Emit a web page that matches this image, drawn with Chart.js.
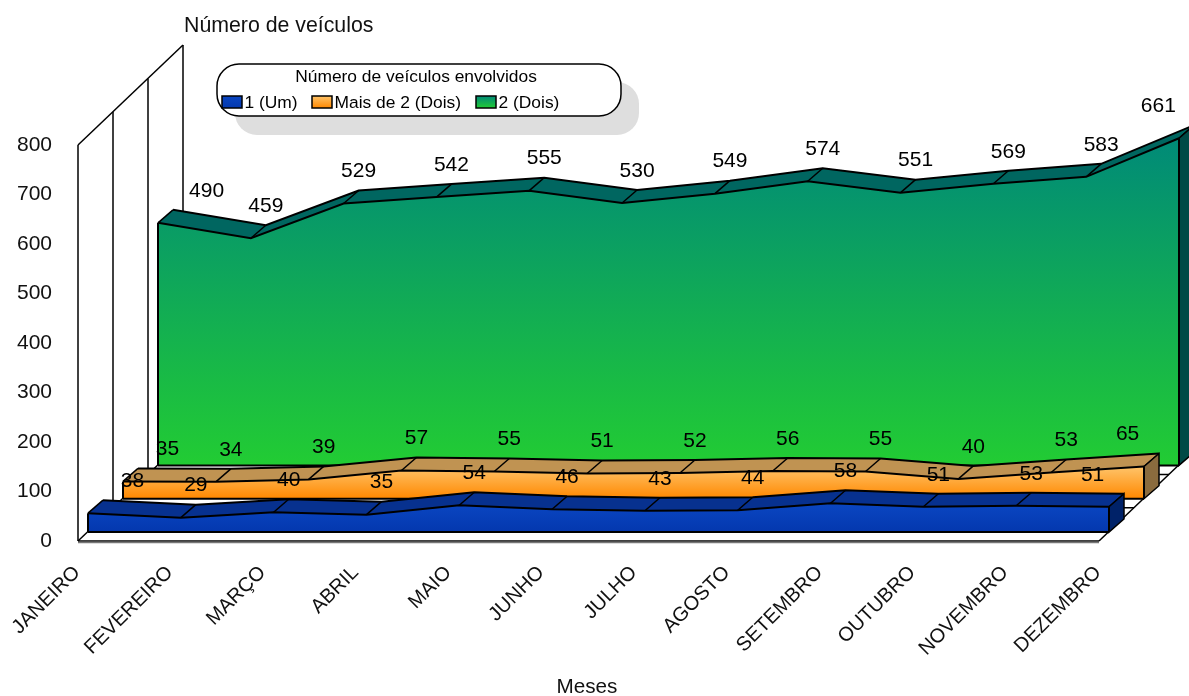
<!DOCTYPE html>
<html>
<head>
<meta charset="utf-8">
<title>Número de veículos envolvidos</title>
<script src="https://cdn.jsdelivr.net/npm/chart.js@4"></script>
<style>
  body { margin: 0; background: #fff; }
</style>
</head>
<body>
<canvas id="grafico" width="1189" height="696"></canvas>
<script>
var meses = ['JANEIRO', 'FEVEREIRO', 'MARÇO', 'ABRIL', 'MAIO', 'JUNHO', 'JULHO', 'AGOSTO', 'SETEMBRO', 'OUTUBRO', 'NOVEMBRO', 'DEZEMBRO'];
var um = [38, 29, 40, 35, 54, 46, 43, 44, 58, 51, 53, 51];
var maisDe2 = [35, 34, 39, 57, 55, 51, 52, 56, 55, 40, 53, 65];
var dois = [490, 459, 529, 542, 555, 530, 549, 574, 551, 569, 583, 661];
var series = [um, maisDe2, dois];
var nomes = ['1 (Um)', 'Mais de 2 (Dois)', '2 (Dois)'];

// cores por serie: topo e base do degrade, face de cima, face lateral
var coresTopo = ['#0a46c2', '#ffc46a', '#008a78'];
var coresBase = ['#0438ae', '#ff8800', '#22cc33'];
var coresCima = ['#07318f', '#c09352', '#006660'];
var coresLado = ['#002268', '#8a6b3e', '#004a46'];

// geometria da falsa perspectiva, em pixels
var LEFT = 78, BOTTOM = 541, TOP = 30;
var PX_X = 1021 / 11, PX_Y = 396 / 800;
var X_MAX = (1189 - LEFT) / PX_X, Y_MAX = (BOTTOM - TOP) / PX_Y;
var FONTE = '"Liberation Sans", Arial, sans-serif';

function pontos(valores) {
  return meses.map(function (m, i) { return { x: i, y: valores[i] }; });
}

function degrade(k) {
  return function (ctx) {
    var chart = ctx.chart;
    var esc = chart.scales['yf' + k];
    if (!chart.chartArea || !esc) return coresBase[k];
    var g = chart.ctx.createLinearGradient(0, esc.getPixelForValue(Math.max.apply(null, series[k])), 0, esc.getPixelForValue(0));
    g.addColorStop(0, coresTopo[k]);
    g.addColorStop(1, coresBase[k]);
    return g;
  };
}

var escalas = {
  x: {
    type: 'linear', min: 0, max: X_MAX,
    grid: { display: false }, border: { display: false },
    ticks: {
      stepSize: 1, includeBounds: false, autoSkip: false, maxTicksLimit: 20,
      minRotation: 45, maxRotation: 45, padding: 12, labelOffset: -1, color: '#111',
      font: { family: FONTE, size: 20 },
      callback: function (v) { return meses[v]; }
    },
    afterFit: function (s) { s.height = 155; s.paddingLeft = 0; s.paddingRight = 0; }
  },
  y: {
    type: 'linear', min: 0, max: Y_MAX,
    grid: { display: false }, border: { display: false },
    ticks: {
      stepSize: 100, includeBounds: false, padding: 18, color: '#111',
      font: { family: FONTE, size: 21 }
    },
    afterBuildTicks: function (s) { s.ticks = s.ticks.filter(function (t) { return t.value <= 800; }); },
    afterFit: function (s) { s.width = LEFT; s.paddingTop = 0; s.paddingBottom = 0; }
  }
};

// cada serie tem eixos escondidos (f = frente, t = tras) deslocados em profundidade
[0, 1, 2].forEach(function (k) {
  ['f', 't'].forEach(function (lado) {
    var dx = 10 + 35 * k + (lado == 't' ? 15 : 0);
    var dy = 9 + 33.3 * k + (lado == 't' ? 13 : 0);
    escalas['x' + lado + k] = { type: 'linear', display: false, min: -dx / PX_X, max: X_MAX - dx / PX_X };
    escalas['y' + lado + k] = { type: 'linear', display: false, min: -dy / PX_Y, max: Y_MAX - dy / PX_Y };
  });
});

var conjuntos = [];
[0, 1, 2].forEach(function (k) {
  conjuntos.push({
    label: nomes[k], data: pontos(series[k]), xAxisID: 'xf' + k, yAxisID: 'yf' + k,
    backgroundColor: degrade(k), borderColor: '#000', borderWidth: 2,
    pointRadius: 0, tension: 0, fill: { value: 0 }, capa: k, face: 'frente'
  });
  conjuntos.push({
    label: nomes[k] + ' topo', data: pontos(series[k]), xAxisID: 'xt' + k, yAxisID: 'yt' + k,
    borderColor: '#000', borderWidth: 2,
    pointRadius: 0, tension: 0, fill: false, capa: k, face: 'topo'
  });
});

function linha(c, x1, y1, x2, y2) {
  c.beginPath();
  c.moveTo(x1, y1);
  c.lineTo(x2, y2);
  c.stroke();
}

var paredes = {
  id: 'paredes',
  beforeDatasetsDraw: function (chart) {
    var c = chart.ctx, px = chart.scales.x, py = chart.scales.y;
    var x0 = px.getPixelForValue(0), x11 = px.getPixelForValue(11);
    var y0 = py.getPixelForValue(0), y8 = py.getPixelForValue(800);
    c.save();
    c.strokeStyle = '#000';
    c.lineWidth = 1.5;
    for (var k = 0; k <= 3; k++) {
      var dx = 35 * k, dy = 33.3 * k;
      linha(c, x0 + dx, y0 - dy, x0 + dx, y8 - dy);
      linha(c, x0 + dx, y0 - dy, x11 + dx, y0 - dy);
    }
    linha(c, x0, y8, x0 + 105, y8 - 100);
    linha(c, x0, y0, x0 + 105, y0 - 100);
    linha(c, x11, y0, x11 + 105, y0 - 100);
    c.strokeStyle = '#777';
    linha(c, x0, y0 + 1.5, x11, y0 + 1.5);
    c.restore();
  },
  beforeDatasetDraw: function (chart, args) {
    var ds = chart.data.datasets[args.index];
    if (ds.face != 'topo') return;
    var k = ds.capa, v = series[k], c = chart.ctx;
    var xf = chart.scales['xf' + k], yf = chart.scales['yf' + k];
    var xt = chart.scales['xt' + k], yt = chart.scales['yt' + k];
    c.save();
    c.fillStyle = coresCima[k];
    c.beginPath();
    v.forEach(function (val, i) {
      c.lineTo(xf.getPixelForValue(i), yf.getPixelForValue(val));
    });
    for (var i = v.length - 1; i >= 0; i--) {
      c.lineTo(xt.getPixelForValue(i), yt.getPixelForValue(v[i]));
    }
    c.closePath();
    c.fill();
    c.restore();
  },
  afterDatasetDraw: function (chart, args) {
    var ds = chart.data.datasets[args.index];
    var k = ds.capa, v = series[k];
    var xf = chart.scales['xf' + k], yf = chart.scales['yf' + k];
    var xt = chart.scales['xt' + k], yt = chart.scales['yt' + k];
    var c = chart.ctx, ult = meses.length - 1;
    c.save();
    c.strokeStyle = '#000';
    c.lineWidth = 1.5;
    if (ds.face == 'topo') {
      v.forEach(function (val, i) {
        linha(c, xf.getPixelForValue(i), yf.getPixelForValue(val), xt.getPixelForValue(i), yt.getPixelForValue(val));
      });
      c.fillStyle = coresLado[k];
      c.beginPath();
      c.moveTo(xf.getPixelForValue(ult), yf.getPixelForValue(v[ult]));
      c.lineTo(xt.getPixelForValue(ult), yt.getPixelForValue(v[ult]));
      c.lineTo(xt.getPixelForValue(ult), yt.getPixelForValue(0));
      c.lineTo(xf.getPixelForValue(ult), yf.getPixelForValue(0));
      c.closePath();
      c.fill();
      c.stroke();
    } else {
      var xa = xf.getPixelForValue(0), xb = xf.getPixelForValue(ult), base = yf.getPixelForValue(0);
      c.lineWidth = 2;
      linha(c, xa, base, xb, base);
      linha(c, xa, base, xa, yf.getPixelForValue(v[0]));
      linha(c, xb, base, xb, yf.getPixelForValue(v[ult]));
    }
    c.restore();
  },
  afterDatasetsDraw: function (chart) {
    var c = chart.ctx;
    c.save();
    c.fillStyle = '#000';
    c.font = '21px ' + FONTE;
    c.textAlign = 'center';
    c.textBaseline = 'middle';
    // rotulos ficam sobre a aresta de tras; primeiro e ultimo entram para dentro
    [2, 1, 0].forEach(function (k) {
      series[k].forEach(function (val, i) {
        var x = chart.scales['xt' + k].getPixelForValue(i);
        var y = chart.scales['yt' + k].getPixelForValue(val) - 19;
        var w = c.measureText(val).width;
        if (i == 0) x += 21 + w * 0.36;
        if (i == meses.length - 1) x -= 23 + w * 0.36;
        c.fillText(val, x, y);
      });
    });
    c.fillStyle = '#111';
    c.textAlign = 'left';
    c.font = '21.3px ' + FONTE;
    c.fillText('Número de veículos', 184, 26);
    c.textAlign = 'center';
    c.font = '20.7px ' + FONTE;
    c.fillText('Meses', 587, 687);
    desenhaLegenda(c);
    c.restore();
  }
};

function desenhaLegenda(c) {
  var posSwatch = [222, 312, 476];
  c.fillStyle = '#dedede';
  c.beginPath();
  c.roundRect(235, 82, 404, 53, 22);
  c.fill();
  c.fillStyle = '#fff';
  c.strokeStyle = '#000';
  c.lineWidth = 1.5;
  c.beginPath();
  c.roundRect(217, 64, 404, 52, 22);
  c.fill();
  c.stroke();
  c.fillStyle = '#000';
  c.font = '17.4px ' + FONTE;
  c.textAlign = 'center';
  c.fillText('Número de veículos envolvidos', 416, 77);
  c.textAlign = 'left';
  nomes.forEach(function (nome, k) {
    var g = c.createLinearGradient(0, 96, 0, 108);
    g.addColorStop(0, coresTopo[k]);
    g.addColorStop(1, coresBase[k]);
    c.fillStyle = g;
    c.fillRect(posSwatch[k], 96, 20, 12);
    c.strokeRect(posSwatch[k], 96, 20, 12);
    c.fillStyle = '#000';
    c.fillText(nome, posSwatch[k] + 22.5, 103);
  });
}

var grafico = new Chart(document.getElementById('grafico').getContext('2d'), {
  type: 'line',
  data: { datasets: conjuntos },
  options: {
    responsive: false,
    animation: false,
    layout: { padding: { top: TOP, right: 0, bottom: 0, left: 0 } },
    plugins: { legend: { display: false }, title: { display: false }, tooltip: { enabled: false } },
    scales: escalas
  },
  plugins: [paredes]
});
</script>
</body>
</html>
